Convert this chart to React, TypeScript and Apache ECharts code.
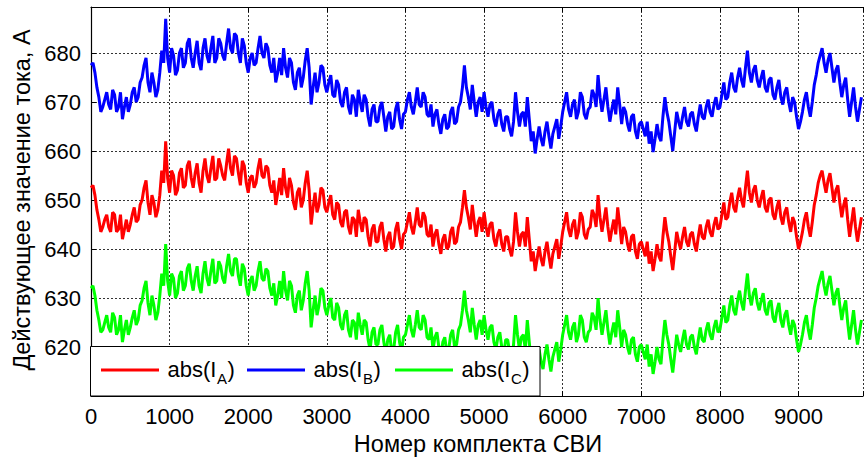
import React, { useEffect, useRef } from "react";
import * as echarts from "echarts";

// x step between samples (units of "Номер комплекта СВИ")
const STEP = 25;
const X_MAX = 9820;
const Y_MIN = 610;
const Y_MAX = 689.4;

const seriesNames = ["abs(I_A)", "abs(I_B)", "abs(I_C)"];
const subscripts = ["A", "B", "C"];
const seriesColors = ["#ff0000", "#0000ff", "#00ff00"];

const valuesB = [
  677.5, 678, 676, 673, 671, 668, 669, 670.5, 672, 669.5, 668.5, 672.5, 671.5, 668, 669, 672, 666.5, 669, 671, 668,
  669.5, 672, 673, 670, 671, 674, 675, 677.5, 679, 674, 672, 676, 674, 671, 672.5, 676, 680.5, 678, 687, 679,
  676, 681, 679.5, 675.5, 676.5, 680, 681, 677, 678, 682, 683, 679, 677, 680, 682.5, 678, 676.5, 681, 683, 679.5,
  678, 681, 683.5, 678, 679, 683, 682, 679.5, 678.5, 682, 685, 681, 680, 684, 683.5, 680, 678, 683, 681.5, 678,
  676, 679, 680, 677.5, 678, 681, 683.5, 680, 679, 682, 681, 677.5, 676, 679, 674, 676, 679, 675.5, 681, 677,
  675, 679, 678, 674, 672.5, 676, 677, 673, 675, 678.5, 681, 677, 669.5, 673, 676, 672, 674, 677.5, 677, 673.5,
  672, 674, 675.5, 671.5, 671, 674.5, 673.5, 670, 669, 672, 673, 669, 667.5, 671.5, 670.5, 667, 672.5, 670, 668, 671.5,
  670.5, 667, 665, 668.5, 669.5, 666, 666, 669, 670, 667, 664, 667, 668, 664.5, 665, 668.5, 670, 666.5, 664.5, 667.5,
  668, 670.5, 672, 669, 667.5, 670, 673, 669.5, 669, 672, 671, 667.5, 667, 669.5, 665, 667.5, 668.5, 665.5, 663.5, 666.5,
  667.5, 664.5, 665, 668, 669, 665.5, 666, 669, 670, 673, 677.5, 673, 671, 668.5, 673.5, 670, 667, 670, 671, 668,
  672, 669, 667, 669.5, 670, 666.5, 665, 667.5, 668.5, 665.5, 664, 667, 667, 664.5, 663, 666, 672, 668, 665, 667.5,
  668, 665, 671, 666.5, 662, 664, 659.5, 662.5, 665, 662.5, 661, 664, 666, 663, 660.5, 663.5, 665, 666.5, 662.5, 665,
  668, 670, 672, 668.5, 667, 669.5, 670.5, 666.5, 668, 672, 671, 667.5, 666.5, 668.5, 669, 672.5, 671.5, 669, 675.5, 671,
  668, 670.5, 673, 669, 666, 668.5, 670.5, 667.5, 673, 669.5, 665.5, 669, 668, 665.5, 664, 667, 667.5, 664, 662.5, 665.5,
  666, 664.5, 663, 666, 661.5, 664, 659.8, 662.5, 665.5, 663, 662, 667, 671, 668, 666, 663, 660, 664, 668, 666,
  664.5, 667, 669, 666, 665, 667.5, 668, 665.5, 664, 667, 669.5, 667, 666.5, 669, 670.5, 668, 667, 669.5, 671, 668.5,
  669, 671.5, 674, 670.5, 671, 674, 676, 673, 672, 675, 677, 674.5, 673, 677, 680.5, 676, 674, 676.5, 677.5, 674.5,
  673, 675, 676.5, 673, 672, 674.5, 675, 671.5, 670.5, 673, 674.5, 671, 669.5, 672, 673, 670, 668, 671, 670, 667,
  664.5, 666, 668, 670.5, 672, 669, 667, 670, 673.5, 675.5, 678, 679.5, 681, 678, 676, 678.5, 680, 677, 674, 676.5,
  677.5, 674, 671, 673.5, 675, 670.5, 667, 670, 673, 669, 666, 668.5, 671,
];

const valuesA = [
  652.5, 653, 651, 648, 646, 643.5, 644.5, 646, 647, 644.5, 643.5, 647.5, 647, 643.5, 644, 647, 642, 644, 646, 643.5,
  645, 647, 648.5, 645.5, 646, 649, 650, 652.5, 654, 649.5, 647, 651, 649.5, 646.5, 648, 651, 656, 653.5, 662, 654.5,
  651.5, 656, 655, 651, 652, 655.5, 656.5, 652.5, 653, 657, 658, 654.5, 652.5, 655.5, 657.5, 653.5, 651.5, 656, 658.5, 655,
  653.5, 656.5, 659, 654, 654.5, 658.5, 657, 655, 654, 657.5, 660.5, 656.5, 655, 659, 658.5, 655.5, 653, 658, 657, 653.5,
  651.5, 654.5, 655, 652.5, 653.5, 656.5, 658.5, 655, 654.5, 657, 656.5, 653, 651.5, 654, 649, 651.5, 654.5, 651, 656.5, 652.5,
  650.5, 654.5, 653, 649.5, 648, 651.5, 652.5, 648.5, 650, 653.5, 656, 652, 645, 648.5, 651.5, 647.5, 649, 652.5, 652, 648.5,
  647.5, 649.5, 651, 647, 646, 649.5, 649, 645.5, 644.5, 647.5, 648, 644.5, 643, 646.5, 646, 642.5, 648, 645.5, 643.5, 646.5,
  646, 642.5, 640.5, 644, 645, 641.5, 641.5, 644.5, 645.5, 642, 639.5, 642.5, 643.5, 640, 640.5, 644, 645.5, 642, 640, 643,
  643.5, 645.5, 647.5, 644.5, 643, 645.5, 648.5, 645, 644.5, 647.5, 646.5, 643, 642.5, 645, 640.5, 643, 644, 641, 639, 642,
  643, 640, 640.5, 643.5, 644.5, 641, 641.5, 644.5, 645.5, 648.5, 652, 648.5, 646.5, 644, 649, 645.5, 642.5, 645.5, 646.5, 643.5,
  647.5, 644.5, 642.5, 645, 645.5, 642, 640.5, 643, 644, 641, 639.5, 642.5, 642.5, 640, 638.5, 641.5, 647.5, 643.5, 640.5, 643,
  643.5, 640.5, 646.5, 642, 637.5, 639.5, 635.5, 638, 640.5, 638, 636.5, 639.5, 641.5, 638.5, 636, 639, 640.5, 642, 638, 640.5,
  643.5, 645.5, 647.5, 644, 642.5, 645, 646, 642, 643.5, 647.5, 646.5, 643, 642, 644, 644.5, 648, 647, 644.5, 651, 646.5,
  643.5, 646, 648.5, 644.5, 641.5, 644, 646, 643, 648.5, 645, 641, 644.5, 643.5, 641, 639.5, 642.5, 643, 639.5, 638, 641,
  641.5, 640, 638.5, 641.5, 637, 639.5, 635.5, 638, 641, 638.5, 637.5, 642.5, 646.5, 643.5, 641.5, 638.5, 635.7, 639.5, 643.5, 641.5,
  640, 642.5, 644.5, 641.5, 640.5, 643, 643.5, 641, 639.5, 642.5, 645, 642.5, 642, 644.5, 646, 643.5, 642.5, 645, 646.5, 644,
  644.5, 647, 649.5, 646, 646.5, 649.5, 651.5, 648.5, 647.5, 650.5, 652.5, 650, 648.5, 652.5, 656, 651.5, 649.5, 652, 653, 650,
  648.5, 650.5, 652, 648.5, 647.5, 650, 650.5, 647, 646, 648.5, 650, 646.5, 645, 647.5, 648.5, 645.5, 643.5, 646.5, 645.5, 642.5,
  640, 641.5, 643.5, 646, 647.5, 644.5, 642.5, 645.5, 649, 651, 653.5, 655, 656, 653.5, 651.5, 654, 655.5, 652.5, 649.5, 652,
  653, 649.5, 646.5, 649, 650.5, 646, 642.5, 645.5, 648.5, 644.5, 641.5, 644, 646.5,
];

const valuesC = [
  632, 632.5, 630.5, 627.5, 625.5, 623, 623.5, 625, 626.5, 624, 623, 627, 626, 622.5, 623.5, 626.5, 621, 623.5, 625.5, 622.5,
  624, 626, 627.5, 624.5, 625.5, 628.5, 629.5, 632, 633.5, 629, 626.5, 630.5, 628.5, 625.5, 627, 630.5, 635, 632.5, 641, 633.5,
  630.5, 635, 634, 630, 631, 634.5, 635.5, 631.5, 632.5, 636, 637, 633.5, 631.5, 634.5, 636.5, 632.5, 631, 635, 637.5, 634,
  632.5, 635.5, 638, 633, 633.5, 637.5, 636.5, 634, 633, 636.5, 639, 635.5, 634.5, 638, 638, 634.5, 632.5, 637, 636, 632.5,
  630.5, 633.5, 634.5, 631.5, 632.5, 635.5, 637.5, 634, 633.5, 636, 635.5, 632, 630.5, 633, 628.5, 630.5, 633.5, 630, 635.5, 631.5,
  629.5, 633.5, 632.5, 628.5, 627, 630.5, 631.5, 627.5, 629.5, 633, 635.5, 631.5, 624, 627.5, 630.5, 626.5, 628.5, 632, 631.5, 628,
  626.5, 628.5, 630, 626, 625.5, 629, 628, 624.5, 623.5, 626.5, 627.5, 623.5, 622, 625.5, 625, 621.5, 627, 624.5, 622.5, 625.5,
  625, 621.5, 619.5, 623, 624, 620.5, 620.5, 623.5, 624.5, 621, 618.5, 621.5, 622.5, 619, 619.5, 623, 624.5, 621, 619, 622,
  622.5, 624.5, 626.5, 623.5, 622, 624.5, 627.5, 624, 623.5, 626.5, 625.5, 622, 621.5, 624, 619.5, 622, 623, 620, 618, 621,
  622, 619, 619.5, 622.5, 623.5, 620, 620.5, 623.5, 624.5, 627.5, 631.5, 627.5, 625.5, 623, 628, 624.5, 621.5, 624.5, 625.5, 622.5,
  626.5, 623.5, 621.5, 624, 624.5, 621, 619.5, 622, 623, 620, 618.5, 621.5, 621.5, 619, 617.5, 620.5, 626.5, 622.5, 619.5, 622,
  622.5, 619.5, 625.5, 621, 616.5, 618.5, 614.5, 617, 619.5, 617, 615.5, 618.5, 620.5, 617.5, 615, 618, 619.5, 621, 617, 619.5,
  622.5, 624.5, 626.5, 623, 621.5, 624, 625, 621, 622.5, 626.5, 625.5, 622, 621, 623, 623.5, 627, 626, 623.5, 630, 625.5,
  622.5, 625, 627.5, 623.5, 620.5, 623, 625, 622, 627.5, 624, 620, 623.5, 622.5, 620, 618.5, 621.5, 622, 618.5, 617, 620,
  620.5, 619, 617.5, 620.5, 616, 618.5, 614.5, 617, 620, 617.5, 616.5, 621.5, 625.5, 622.5, 620.5, 617.5, 614.8, 618.5, 622.5, 620.5,
  619, 621.5, 623.5, 620.5, 619.5, 622, 622.5, 620, 618.5, 621.5, 624, 621.5, 621, 623.5, 625, 622.5, 621.5, 624, 625.5, 623,
  623.5, 626, 628.5, 625, 625.5, 628.5, 630.5, 627.5, 626.5, 629.5, 631.5, 629, 627.5, 631.5, 635, 630.5, 628.5, 631, 632, 629,
  627.5, 629.5, 631, 627.5, 626.5, 629, 629.5, 626, 625, 627.5, 629, 625.5, 624, 626.5, 627.5, 624.5, 622.5, 625.5, 624.5, 621.5,
  619, 620.5, 622.5, 625, 626.5, 623.5, 621.5, 624.5, 628, 630, 632.5, 634, 635.5, 632.5, 630.5, 633, 634.5, 631.5, 628.5, 631,
  632, 628.5, 625.5, 628, 629.5, 625, 621.5, 624.5, 627.5, 623.5, 620.5, 623, 625.5,
];

const xTitle = "Номер комплекта СВИ";
const yTitle = "Действующее значение тока, А";

const FONT = "'Liberation Sans', Arial, sans-serif";

function measure(text: string, size: number): number {
  const c = document.createElement("canvas").getContext("2d");
  if (!c) return text.length * size * 0.55;
  c.font = `${size}px 'Liberation Sans', Arial, sans-serif`;
  return c.measureText(text).width;
}

export default function App() {
  const ref = useRef<HTMLDivElement>(null);

  useEffect(() => {
    if (!ref.current) return;
    const chart = echarts.init(ref.current, undefined, { renderer: "svg" });

    const allValues = [valuesA, valuesB, valuesC];
    const series = allValues.map((vals, k) => ({
      name: seriesNames[k],
      type: "line",
      data: vals.map((v, i) => [i * STEP, v]),
      showSymbol: false,
      symbol: "none",
      lineStyle: { color: seriesColors[k], width: 3 },
      itemStyle: { color: seriesColors[k] },
      z: 2,
    }));

    // legend box built with graphic elements
    const legFont = 22;
    const subFont = 15;
    const legY = 369;
    const lineStarts = [101, 247, 395];
    const textStarts = [167.5, 313.5, 461.5];
    const legendEls: any[] = [
      {
        type: "rect",
        shape: { x: 90.5, y: 346.5, width: 449.5, height: 49.5 },
        style: { fill: "#fff", stroke: "#000", lineWidth: 1 },
        z: 100,
      },
    ];
    for (let k = 0; k < 3; k++) {
      legendEls.push({
        type: "line",
        shape: { x1: lineStarts[k], y1: legY + 1, x2: lineStarts[k] + 58, y2: legY + 1 },
        style: { stroke: seriesColors[k], lineWidth: 3 },
        z: 101,
      });
      const main = "abs(I";
      const w1 = measure(main, legFont);
      const w2 = measure(subscripts[k], subFont);
      legendEls.push({
        type: "text",
        x: textStarts[k],
        y: legY,
        style: { text: main, font: `${legFont}px ${FONT}`, fill: "#000", verticalAlign: "middle", align: "left" },
        z: 102,
      });
      legendEls.push({
        type: "text",
        x: textStarts[k] + w1 + 0.5,
        y: legY + 9,
        style: { text: subscripts[k], font: `${subFont}px ${FONT}`, fill: "#000", verticalAlign: "middle", align: "left" },
        z: 102,
      });
      legendEls.push({
        type: "text",
        x: textStarts[k] + w1 + w2 + 1,
        y: legY,
        style: { text: ")", font: `${legFont}px ${FONT}`, fill: "#000", verticalAlign: "middle", align: "left" },
        z: 102,
      });
    }

    const gridLine = { show: true, lineStyle: { color: "#333", type: [2, 2], width: 1 } };

    chart.setOption({
      animation: false,
      backgroundColor: "#fff",
      grid: { left: 91, right: 0, top: 7, bottom: 63, containLabel: false },
      xAxis: [
        {
          type: "value",
          min: 0,
          max: X_MAX,
          interval: 1000,
          position: "bottom",
          axisLine: { show: true, lineStyle: { color: "#000", width: 1.2 } },
          axisTick: { show: true, inside: true, length: 5, lineStyle: { color: "#000" } },
          axisLabel: {
            margin: 9,
            fontSize: 22,
            fontFamily: FONT,
            color: "#000",
            formatter: (v: number) => (v % 1000 === 0 ? String(v) : ""),
          },
          splitLine: gridLine,
        },
        {
          type: "value",
          min: 0,
          max: X_MAX,
          interval: 1000,
          position: "top",
          axisLine: { show: true, lineStyle: { color: "#000", width: 1.2 } },
          axisTick: { show: true, inside: true, length: 5, lineStyle: { color: "#000" } },
          axisLabel: { show: false },
          splitLine: { show: false },
        },
      ],
      yAxis: {
        type: "value",
        min: Y_MIN,
        max: Y_MAX,
        interval: 10,
        axisLine: { show: true, lineStyle: { color: "#000", width: 1.2 } },
        axisTick: { show: true, inside: true, length: 5, lineStyle: { color: "#000" } },
        axisLabel: {
          margin: 10,
          fontSize: 22,
          fontFamily: FONT,
          color: "#000",
          formatter: (v: number) => (v % 10 === 0 && v >= 620 ? String(v) : ""),
        },
        splitLine: gridLine,
      },
      graphic: [
        ...legendEls,
        {
          type: "text",
          x: 478,
          y: 444,
          style: { text: xTitle, font: `23.5px ${FONT}`, fill: "#000", align: "center", verticalAlign: "middle" },
        },
        {
          type: "text",
          x: 22,
          y: 200,
          rotation: Math.PI / 2,
          style: { text: yTitle, font: `23.5px ${FONT}`, fill: "#000", align: "center", verticalAlign: "middle" },
        },
      ],
      series,
    });

    return () => chart.dispose();
  }, []);

  return (
    <div
      ref={ref}
      style={{ position: "absolute", left: 0, top: 0, width: 866, height: 459, background: "#fff" }}
    />
  );
}
